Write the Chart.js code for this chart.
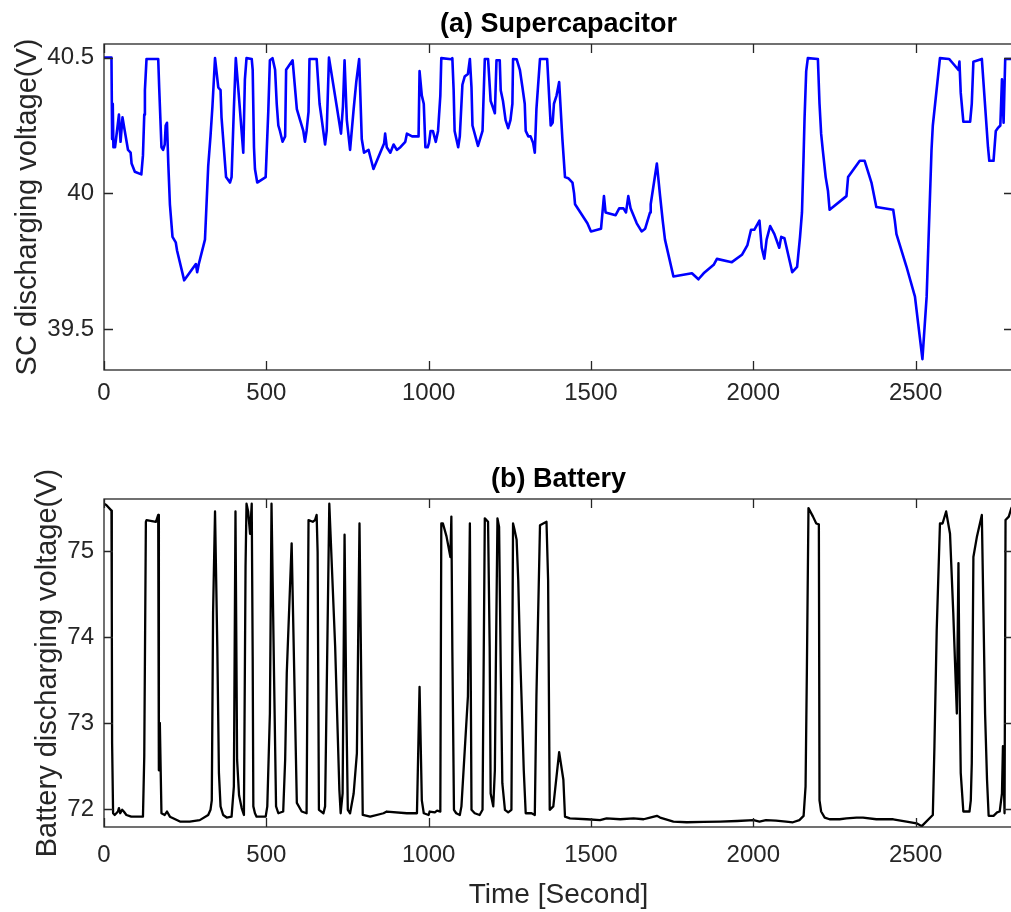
<!DOCTYPE html>
<html>
<head>
<meta charset="utf-8">
<script src="https://cdn.jsdelivr.net/npm/chart.js@4.4.1/dist/chart.umd.min.js"></script>
<style>
  html, body { margin: 0; padding: 0; background: #fff; overflow: hidden; width: 1011px; height: 912px; }
  canvas { position: absolute; left: 0; }
  #scChart { top: 0; }
  #batChart { top: 440px; }
</style>
</head>
<body>
<canvas id="scChart" width="1030" height="440"></canvas>
<canvas id="batChart" width="1030" height="472"></canvas>
<script>
// Supercapacitor discharging voltage over time
const scTime = [0,23,25,27,29,34,46,51,57,64,74,82,85,95,115,120,124,126,131,167,170,177,182,187,190,194,198,203,211,221,225,247,283,287,292,311,321,328,334,342,352,359,362,376,388,393,400,406,414,429,434,439,455,458,462,465,472,498,506,511,519,527,532,537,542,550,558,561,581,594,604,614,619,624,630,633,655,664,671,681,686,693,717,730,736,741,748,758,769,777,786,794,801,815,830,863,866,871,882,892,902,913,928,933,949,969,972,979,985,990,997,1001,1006,1013,1022,1029,1036,1039,1070,1073,1077,1080,1091,1096,1104,1111,1121,1127,1132,1135,1152,1166,1168,1173,1183,1191,1197,1204,1209,1219,1222,1229,1237,1245,1252,1258,1260,1271,1281,1289,1296,1299,1307,1314,1322,1327,1332,1343,1365,1376,1382,1386,1394,1402,1412,1420,1430,1443,1448,1451,1489,1500,1531,1540,1545,1576,1587,1600,1608,1615,1622,1641,1656,1667,1682,1684,1703,1713,1721,1728,1754,1811,1831,1847,1878,1888,1934,1965,1982,1993,2003,2019,2026,2034,2041,2052,2065,2080,2086,2096,2120,2135,2144,2150,2155,2158,2163,2168,2199,2204,2209,2214,2223,2230,2235,2287,2292,2328,2343,2364,2379,2431,2436,2441,2472,2498,2508,2521,2534,2549,2553,2575,2603,2614,2632,2635,2639,2647,2668,2673,2678,2704,2723,2727,2740,2747,2753,2761,2766,2771,2776,2800];
const scVoltage = [40.5,40.5,40.2,40.33,40.17,40.17,40.29,40.19,40.28,40.23,40.16,40.15,40.11,40.08,40.07,40.14,40.29,40.38,40.495,40.495,40.39,40.17,40.16,40.18,40.25,40.26,40.11,39.96,39.84,39.82,39.79,39.68,39.74,39.71,39.74,39.83,40.10,40.21,40.32,40.498,40.39,40.38,40.28,40.06,40.04,40.06,40.31,40.498,40.38,40.15,40.42,40.498,40.495,40.455,40.17,40.09,40.04,40.06,40.30,40.49,40.498,40.455,40.33,40.25,40.23,40.19,40.21,40.455,40.49,40.31,40.27,40.23,40.19,40.23,40.30,40.495,40.495,40.33,40.27,40.18,40.23,40.5,40.32,40.22,40.32,40.49,40.27,40.16,40.31,40.41,40.495,40.20,40.15,40.16,40.09,40.185,40.22,40.17,40.15,40.18,40.16,40.17,40.19,40.22,40.21,40.21,40.45,40.36,40.33,40.17,40.17,40.185,40.23,40.23,40.19,40.23,40.36,40.498,40.494,40.498,40.38,40.23,40.17,40.21,40.40,40.43,40.44,40.495,40.39,40.25,40.175,40.23,40.31,40.495,40.495,40.34,40.32,40.295,40.49,40.49,40.38,40.34,40.27,40.24,40.27,40.33,40.495,40.494,40.455,40.39,40.33,40.23,40.21,40.21,40.185,40.15,40.31,40.495,40.495,40.25,40.26,40.33,40.36,40.41,40.20,40.06,40.056,40.04,40.0,39.96,39.89,39.86,39.87,39.99,39.93,39.92,39.945,39.945,39.93,39.99,39.945,39.89,39.86,39.87,39.93,39.96,40.11,39.99,39.90,39.83,39.694,39.706,39.684,39.706,39.737,39.759,39.747,39.774,39.81,39.866,39.866,39.90,39.80,39.76,39.83,39.88,39.85,39.80,39.84,39.835,39.71,39.73,39.84,39.93,40.14,40.28,40.45,40.498,40.495,40.33,40.22,40.16,40.06,40.01,39.94,39.99,40.06,40.12,40.12,40.04,39.95,39.94,39.90,39.85,39.73,39.62,39.52,39.39,39.62,40.16,40.25,40.498,40.495,40.48,40.455,40.485,40.37,40.264,40.264,40.33,40.485,40.495,40.17,40.12,40.12,40.23,40.24,40.25,40.42,40.26,40.495,40.495];

// Battery discharging voltage over time
const batTime = [0,7,23,24,25,28,33,43,46,50,56,61,69,84,120,124,129,131,160,167,169,172,177,187,194,203,234,264,295,321,328,332,336,342,349,354,359,367,378,393,400,405,410,416,424,431,436,439,444,450,455,458,460,465,470,498,503,511,516,524,530,537,552,558,563,578,594,609,624,630,643,650,655,658,662,676,681,694,712,725,729,735,741,746,751,758,769,779,787,797,820,861,871,933,964,972,979,985,1000,1003,1019,1026,1036,1039,1044,1055,1067,1070,1073,1078,1085,1096,1101,1121,1127,1132,1142,1157,1166,1173,1183,1188,1191,1199,1204,1207,1212,1217,1222,1227,1235,1245,1255,1260,1265,1271,1276,1281,1286,1293,1299,1317,1327,1332,1343,1363,1368,1373,1384,1402,1415,1420,1435,1487,1528,1548,1590,1631,1662,1682,1703,1713,1754,1795,1847,1898,1950,2001,2019,2039,2070,2101,2122,2142,2155,2161,2165,2170,2184,2194,2202,2204,2209,2220,2235,2266,2287,2318,2338,2379,2431,2472,2503,2519,2553,2558,2565,2575,2583,2594,2606,2616,2627,2632,2635,2639,2647,2666,2670,2673,2678,2689,2704,2709,2714,2720,2725,2740,2751,2759,2766,2769,2774,2777,2787,2795,2800];
const batVoltage = [75.55,75.535,75.47,74.31,72.76,71.95,71.93,71.97,72.01,71.95,71.99,71.97,71.93,71.91,71.91,72.61,75.34,75.36,75.34,75.42,72.45,73.0,71.95,71.93,71.97,71.91,71.853,71.853,71.87,71.93,71.99,72.1,74.28,75.46,73.89,72.42,72.03,71.93,71.90,71.91,72.26,75.46,72.57,72.16,72.01,71.93,74.82,75.55,75.46,75.2,75.55,73.77,72.03,71.95,71.91,71.91,72.03,73.11,75.55,73.5,72.03,71.95,71.97,72.57,73.58,75.09,72.07,71.97,71.95,75.36,75.34,75.36,75.42,74.99,71.99,71.95,72.03,75.55,73.89,72.22,71.95,72.18,75.19,73.31,71.99,71.95,72.18,72.65,75.32,71.93,71.91,71.95,71.97,71.95,71.95,73.42,72.1,71.95,71.93,71.97,71.96,71.98,71.97,75.32,75.32,75.17,74.93,75.40,73.85,71.99,71.95,71.93,72.03,73.31,75.32,71.99,71.95,71.93,71.99,75.38,75.34,73.89,72.18,72.03,72.45,73.66,75.38,75.28,73.66,72.30,71.99,71.96,71.99,75.32,75.24,75.13,74.66,73.89,73.31,72.45,71.95,71.95,71.93,73.31,75.30,75.34,74.66,71.99,72.03,72.66,72.34,71.91,71.89,71.88,71.87,71.89,71.88,71.89,71.88,71.90,71.92,71.90,71.853,71.845,71.849,71.853,71.86,71.87,71.853,71.87,71.864,71.853,71.845,71.87,71.92,72.26,73.58,75.50,75.40,75.32,75.31,72.1,71.97,71.90,71.88,71.88,71.89,71.90,71.90,71.88,71.88,71.853,71.833,71.80,71.93,72.73,74.08,75.32,75.32,75.46,75.2,74.28,73.11,74.86,73.5,72.42,71.97,71.97,72.1,72.53,74.93,75.17,75.42,74.28,73.11,72.34,71.92,71.92,71.96,71.97,72.18,72.73,71.95,75.36,75.40,75.50,75.53];

// Axis ranges and tick labels
const timeRange = [0, 2800];
const timeTicks = [0, 500, 1000, 1500, 2000, 2500];
const scRange = [39.35, 40.55];
const scTicks = [39.5, 40, 40.5];
const batRange = [71.79, 75.605];
const batTicks = [72, 73, 74, 75];

const AXIS_COLOR = '#262626';
const FONT = '"Liberation Sans", Arial, Helvetica, sans-serif';

// Draws the boxed frame with inward tick marks, the panel title and axis titles
const framePlugin = {
  id: 'frame',
  afterDraw(chart, args, opts) {
    const { ctx, chartArea: a, scales: { x, y } } = chart;
    ctx.save();
    ctx.strokeStyle = AXIS_COLOR;
    ctx.lineWidth = 1.3;
    ctx.strokeRect(a.left, a.top, a.right - a.left, a.bottom - a.top);
    const L = 9;
    ctx.beginPath();
    x.ticks.forEach(t => {
      const px = Math.round(x.getPixelForValue(t.value)) + 0.5;
      ctx.moveTo(px, a.bottom); ctx.lineTo(px, a.bottom - L);
      ctx.moveTo(px, a.top); ctx.lineTo(px, a.top + L);
    });
    y.ticks.forEach(t => {
      const py = Math.round(y.getPixelForValue(t.value)) + 0.5;
      ctx.moveTo(a.left, py); ctx.lineTo(a.left + L, py);
      ctx.moveTo(a.right, py); ctx.lineTo(a.right - L, py);
    });
    ctx.stroke();

    const cx = (a.left + a.right) / 2;
    ctx.fillStyle = '#000';
    ctx.textAlign = 'center';
    ctx.textBaseline = 'alphabetic';
    ctx.font = 'bold 27px ' + FONT;
    ctx.fillText(opts.title, cx, a.top - 12);

    ctx.fillStyle = AXIS_COLOR;
    ctx.font = '29px ' + FONT;
    ctx.save();
    ctx.translate(opts.yTitleX, (a.top + a.bottom) / 2);
    ctx.rotate(-Math.PI / 2);
    ctx.fillText(opts.yTitle, 0, 0);
    ctx.restore();

    if (opts.xTitle) {
      ctx.font = '28px ' + FONT;
      ctx.fillText(opts.xTitle, cx, opts.xTitleY);
    }
    ctx.restore();
  }
};

function points(xs, ys) {
  return xs.map((t, i) => ({ x: t, y: ys[i] }));
}

function makeChart(id, cfg) {
  return new Chart(document.getElementById(id), {
    type: 'line',
    data: {
      datasets: [{
        data: points(cfg.xs, cfg.ys),
        borderColor: cfg.color,
        borderWidth: cfg.width,
        borderJoinStyle: 'round',
        borderCapStyle: 'round',
        pointRadius: 0,
        tension: 0,
        fill: false
      }]
    },
    options: {
      responsive: false,
      animation: false,
      events: [],
      layout: { padding: { top: cfg.top, left: 0, right: 17, bottom: 0 } },
      plugins: {
        legend: { display: false },
        tooltip: { enabled: false },
        frame: { title: cfg.title, yTitle: cfg.yTitle, yTitleX: cfg.yTitleX, xTitle: cfg.xTitle, xTitleY: cfg.xTitleY }
      },
      scales: {
        x: {
          type: 'linear',
          min: timeRange[0], max: timeRange[1],
          afterBuildTicks: s => { s.ticks = timeTicks.map(v => ({ value: v })); },
          afterFit: s => { s.height = cfg.xAxisHeight; },
          grid: { display: false, drawTicks: false },
          border: { display: false },
          ticks: {
            color: AXIS_COLOR, padding: cfg.xPad, maxRotation: 0,
            font: { family: FONT, size: 24, lineHeight: 1.2 },
            callback: v => String(v)
          }
        },
        y: {
          type: 'linear',
          min: cfg.yRange[0], max: cfg.yRange[1],
          afterBuildTicks: s => { s.ticks = cfg.yTicks.map(v => ({ value: v })); },
          afterFit: s => { s.width = 104; },
          grid: { display: false, drawTicks: false },
          border: { display: false },
          ticks: {
            color: AXIS_COLOR, padding: 10,
            font: { family: FONT, size: 24, lineHeight: 1.2 },
            callback: v => String(v)
          }
        }
      }
    },
    plugins: [framePlugin]
  });
}

makeChart('scChart', {
  xs: scTime, ys: scVoltage, color: '#0000ff', width: 2.6,
  top: 44, xAxisHeight: 70, xPad: 9,
  yRange: scRange, yTicks: scTicks,
  title: '(a) Supercapacitor',
  yTitle: 'SC discharging voltage(V)', yTitleX: 36
});

makeChart('batChart', {
  xs: batTime, ys: batVoltage, color: '#000000', width: 2.3,
  top: 59, xAxisHeight: 85, xPad: 14,
  yRange: batRange, yTicks: batTicks,
  title: '(b) Battery',
  yTitle: 'Battery discharging voltage(V)', yTitleX: 56,
  xTitle: 'Time [Second]', xTitleY: 463
});
</script>
</body>
</html>
